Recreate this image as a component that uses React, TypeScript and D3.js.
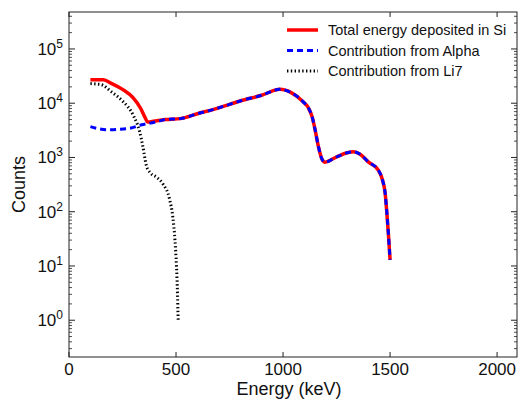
import React from 'react';
import * as d3 from 'd3';

// Energy (keV) / counts
const totalEnergy = [100, 160, 200, 250, 300, 335, 355, 368, 400, 450, 520, 600, 680, 750, 800, 900, 985, 1040, 1093, 1120, 1136, 1150, 1165, 1181, 1196, 1251, 1300, 1329, 1360, 1398, 1445, 1465, 1477, 1484, 1492, 1500];
const totalCounts = [27000, 27000, 23000, 18000, 12500, 8000, 5500, 4500, 4700, 5000, 5200, 6400, 7800, 9500, 11000, 14000, 18000, 15500, 10700, 8000, 5600, 3200, 1600, 950, 820, 1030, 1220, 1270, 1150, 830, 585, 380, 220, 107, 40, 13];

const alphaEnergy = [100, 176, 230, 285, 340, 380, 425, 450, 520, 600, 680, 750, 800, 900, 985, 1040, 1093, 1120, 1136, 1150, 1165, 1181, 1196, 1251, 1300, 1329, 1360, 1398, 1445, 1465, 1477, 1484, 1492, 1500];
const alphaCounts = [3700, 3250, 3300, 3450, 4000, 4300, 4750, 5000, 5200, 6400, 7800, 9500, 11000, 14000, 18000, 15500, 10700, 8000, 5600, 3200, 1600, 950, 820, 1030, 1220, 1270, 1150, 830, 585, 380, 220, 107, 40, 13];

const li7Energy = [100, 150, 200, 250, 300, 330, 345, 360, 380, 410, 440, 470, 485, 495, 502, 507, 510];
const li7Counts = [23000, 22000, 16000, 11000, 6000, 3000, 1600, 750, 520, 430, 320, 170, 80, 30, 10, 3, 1];

const xTicks = [0, 500, 1000, 1500, 2000];
const yExponents = [0, 1, 2, 3, 4, 5];

const legendLabels = ['Total energy deposited in Si', 'Contribution from Alpha', 'Contribution from Li7'];

const W = 518;
const H = 401;
const margin = { top: 12, right: 1, bottom: 44, left: 69 };
const FONT = '"Liberation Sans", Arial, Helvetica, sans-serif';

export default function App() {
  const x = d3.scaleLinear().domain([0, 2093]).range([margin.left, W - margin.right]);
  const y = d3.scaleLog().domain([0.21, 4.8e5]).range([H - margin.bottom, margin.top]);

  const line = d3.line<[number, number]>().x(d => x(d[0])).y(d => y(d[1])).curve(d3.curveMonotoneX);
  const zip = (a: number[], b: number[]) => a.map((v, i) => [v, b[i]] as [number, number]);

  const x0 = margin.left;
  const x1 = W - margin.right;
  const y0 = H - margin.bottom;
  const y1 = margin.top;

  // minor log ticks
  const minor: number[] = [];
  for (let e = -1; e <= 5; e++) {
    for (let m = 2; m <= 9; m++) {
      const v = m * Math.pow(10, e);
      if (v >= 0.21 && v <= 4.8e5) minor.push(v);
    }
  }

  const series = [
    { d: line(zip(totalEnergy, totalCounts)), stroke: '#ff0000', width: 3.5, dash: undefined as string | undefined },
    { d: line(zip(alphaEnergy, alphaCounts)), stroke: '#0000ff', width: 3, dash: '6,4' },
    { d: line(zip(li7Energy, li7Counts)), stroke: '#000000', width: 3, dash: '1.4,2.4' },
  ];

  return (
    <svg width={W} height={H} style={{ position: 'absolute', left: 0, top: 0, background: '#fff' }} fontFamily={FONT}>
      <rect x={0} y={0} width={W} height={H} fill="#fff" />
      <defs>
        <clipPath id="plot">
          <rect x={x0} y={y1} width={x1 - x0} height={y0 - y1} />
        </clipPath>
      </defs>

      <g clipPath="url(#plot)">
        {series.map((s, i) => (
          <path key={i} d={s.d || ''} fill="none" stroke={s.stroke} strokeWidth={s.width} strokeDasharray={s.dash} strokeLinejoin="round" />
        ))}
      </g>

      {/* frame */}
      <rect x={x0} y={y1} width={x1 - x0} height={y0 - y1} fill="none" stroke="#222" strokeWidth={1} />

      {/* x ticks */}
      {xTicks.map(t => (
        <g key={t}>
          <line x1={x(t)} x2={x(t)} y1={y0} y2={y0 - 5} stroke="#222" />
          <line x1={x(t)} x2={x(t)} y1={y1} y2={y1 + 5} stroke="#222" />
          <text x={x(t)} y={y0 + 18} fontSize={17} textAnchor="middle" fill="#111">{t}</text>
        </g>
      ))}

      {/* y ticks */}
      {yExponents.map(e => {
        const yy = y(Math.pow(10, e));
        return (
          <g key={e}>
            <line x1={x0} x2={x0 + 6} y1={yy} y2={yy} stroke="#222" />
            <line x1={x1} x2={x1 - 6} y1={yy} y2={yy} stroke="#222" />
            <text x={x0 - 6} y={yy + 6} fontSize={17} textAnchor="end" fill="#111">
              10<tspan fontSize={12} dy={-7}>{e}</tspan>
            </text>
          </g>
        );
      })}
      {minor.map((v, i) => (
        <g key={i}>
          <line x1={x0} x2={x0 + 3} y1={y(v)} y2={y(v)} stroke="#222" strokeWidth={0.8} />
          <line x1={x1} x2={x1 - 3} y1={y(v)} y2={y(v)} stroke="#222" strokeWidth={0.8} />
        </g>
      ))}

      {/* axis labels */}
      <text x={(x0 + x1) / 2 - 4} y={H - 6} fontSize={18} textAnchor="middle" fill="#111">Energy (keV)</text>
      <text transform={`translate(25,${(y0 + y1) / 2}) rotate(-90)`} fontSize={18} textAnchor="middle" fill="#111">Counts</text>

      {/* legend */}
      {legendLabels.map((label, i) => {
        const ly = 30 + i * 20.5;
        const s = series[i];
        return (
          <g key={label}>
            <line x1={287} x2={318} y1={ly} y2={ly} stroke={s.stroke} strokeWidth={s.width} strokeDasharray={s.dash} />
            <text x={328} y={ly + 5} fontSize={14.5} fill="#111">{label}</text>
          </g>
        );
      })}
    </svg>
  );
}
